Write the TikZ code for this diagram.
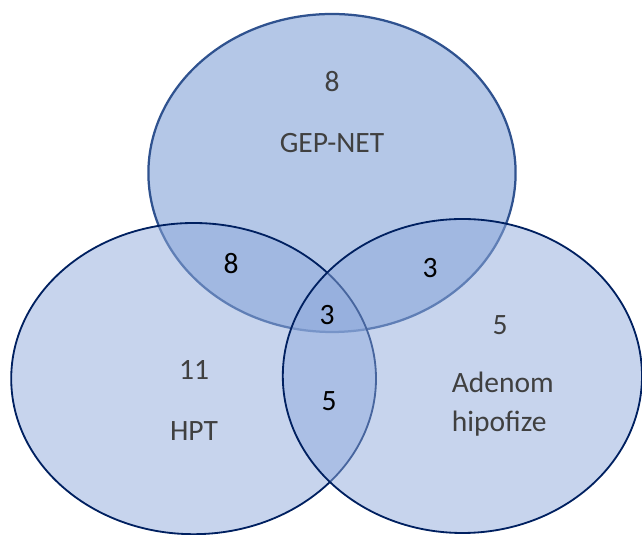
\documentclass[tikz,border=0pt]{standalone}
\usepackage{fontspec}
\setmainfont{Carlito}
\definecolor{topfill}{RGB}{180, 199, 231}
\definecolor{topline}{RGB}{47, 82, 143}
\definecolor{sidefill}{RGB}{143, 170, 220}
\definecolor{sideline}{RGB}{0, 32, 96}
\definecolor{labelgray}{RGB}{64, 64, 64}
\begin{document}
\begin{tikzpicture}[
        setlabel/.style={text=labelgray, font=\fontsize{21}{27.7}\selectfont, inner sep=0pt},
        countlabel/.style={text=black, font=\fontsize{21}{27.7}\selectfont, inner sep=0pt}
    ]
            % Frame to fix the margins
            \useasboundingbox                                                 ( 0.00, 0.00) rectangle (16.05, 13.375);
            \clip                                                             ( 0.00, 0.00) rectangle (16.05, 13.375);
            % GEP-NET set
            \draw[color=topline,  line width=1.6pt, fill=topfill]             ( 8.30, 9.05) ellipse [x radius=4.59cm, y radius=3.975cm];
            % HPT set
            \draw[color=sideline, line width=1.3pt, fill=sidefill, fill opacity=0.5] ( 4.84, 3.91) ellipse [x radius=4.56cm, y radius=3.89cm];
            % Adenom hipofize set
            \draw[color=sideline, line width=1.3pt, fill=sidefill, fill opacity=0.5] (11.56, 3.975) ellipse [x radius=4.49cm, y radius=3.925cm];
            % Set labels
            \node[setlabel]   (gepcount)  at ( 8.30, 11.33) {8};
            \node[setlabel]   (gepname)   at ( 8.30,  9.80) {GEP-NET};
            \node[setlabel]   (hptcount)  at ( 4.85,  4.125) {11};
            \node[setlabel]   (hptname)   at ( 4.85,  2.60) {HPT};
            \node[setlabel]   (adecount)  at (12.50,  5.25) {5};
            \node[setlabel, align=left] (adename) at (12.57, 3.275) {Adenom\\hipofize};
            % Overlap counts
            \node[countlabel] (gephpt)    at ( 5.775, 6.775) {8};
            \node[countlabel] (gepade)    at (10.75,  6.675) {3};
            \node[countlabel] (allthree)  at ( 8.175, 5.50) {3};
            \node[countlabel] (hptade)    at ( 8.225, 3.35) {5};
        \end{tikzpicture}
\end{document}
